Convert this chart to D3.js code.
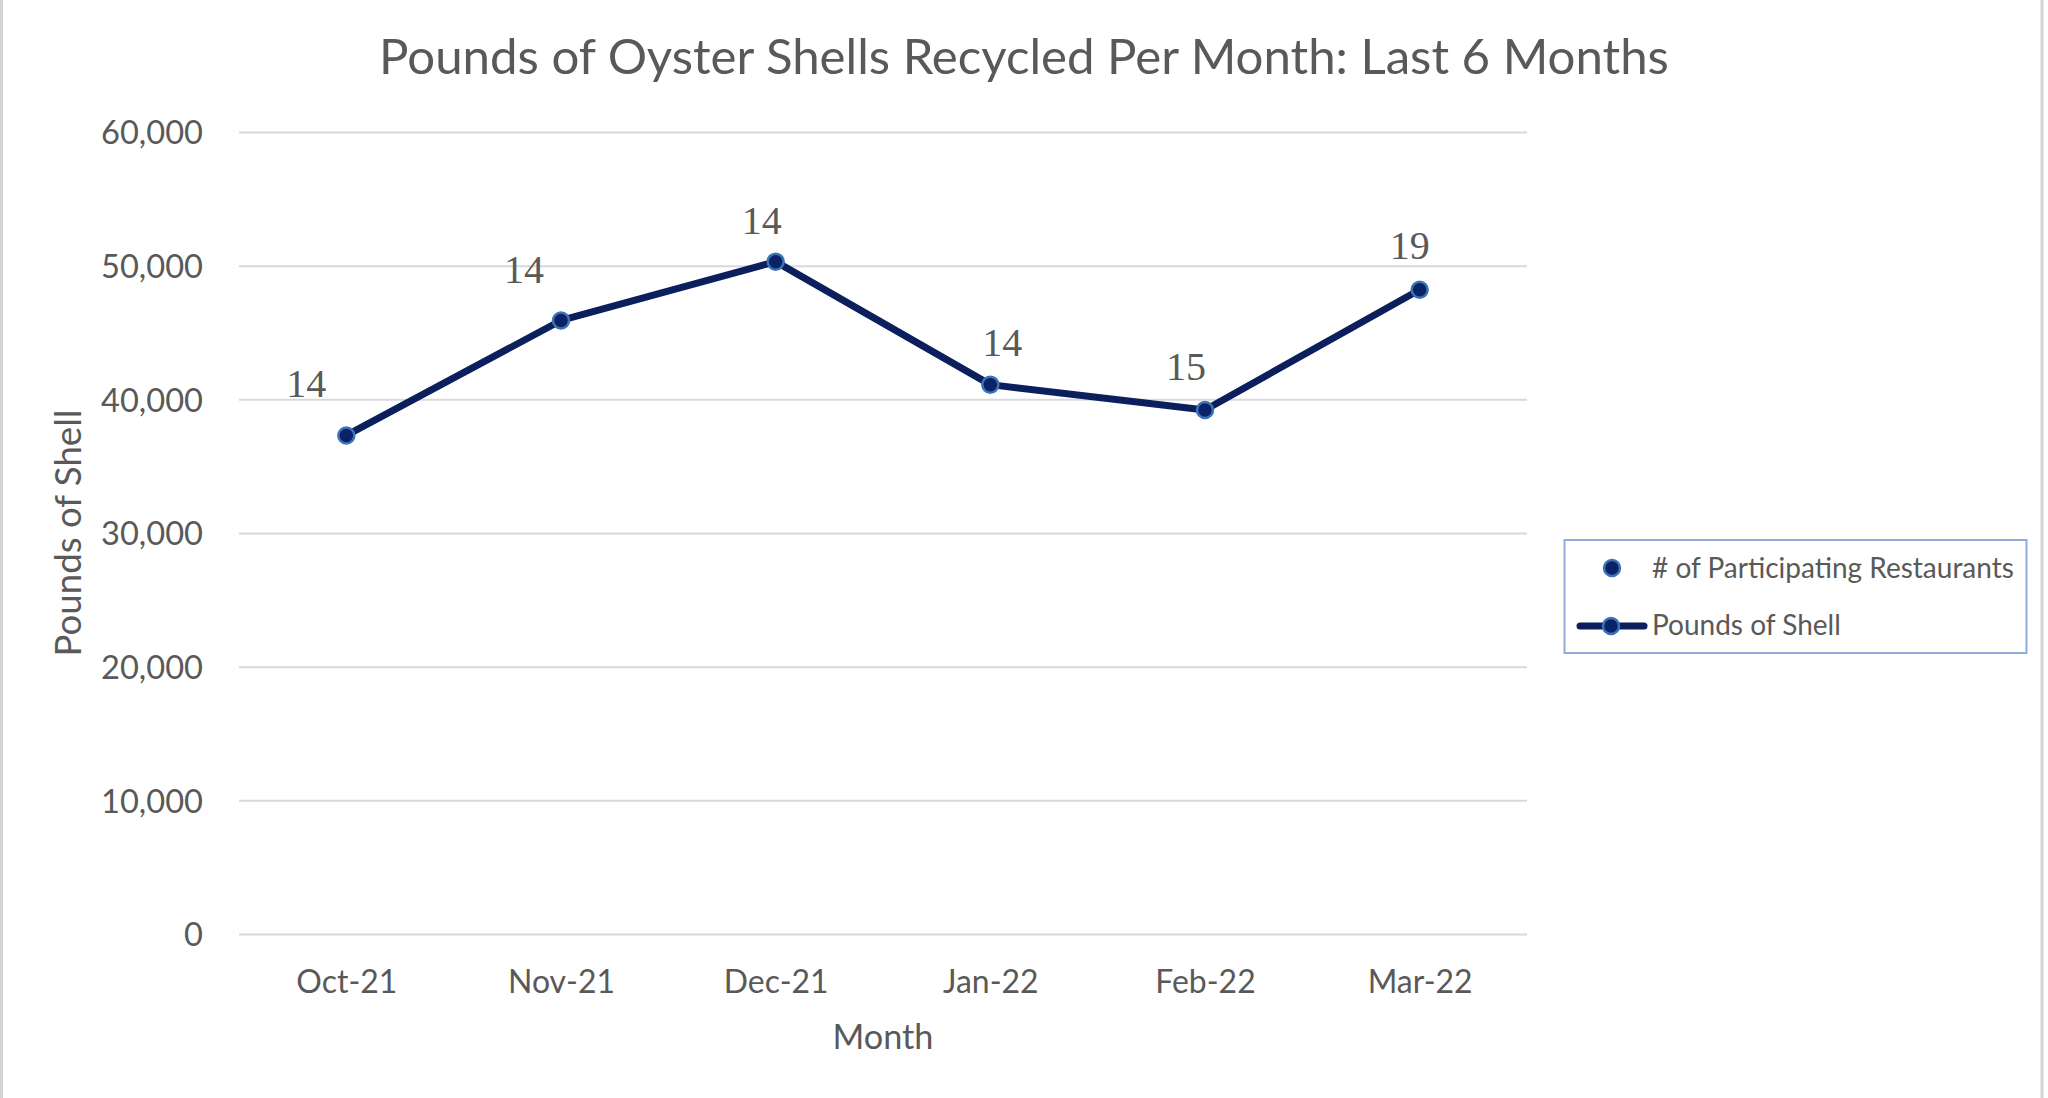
<!DOCTYPE html>
<html>
<head>
<meta charset="utf-8">
<script src="https://cdn.jsdelivr.net/npm/d3@7"></script>
<style>
  html, body { margin: 0; padding: 0; background: #fff; }
  svg { display: block; }
</style>
</head>
<body>
<svg id="chart" width="2048" height="1098"></svg>
<script>
// ---- data ----
const months = ["Oct-21", "Nov-21", "Dec-21", "Jan-22", "Feb-22", "Mar-22"];
const poundsOfShell = [37300, 45900, 50300, 41100, 39200, 48200];
const restaurants = [14, 14, 14, 14, 15, 19];
const yTicks = [0, 10000, 20000, 30000, 40000, 50000, 60000];
const titleText = "Pounds of Oyster Shells Recycled Per Month: Last 6 Months";
const xTitle = "Month";
const yTitle = "Pounds of Shell";
const legendNames = ["# of Participating Restaurants", "Pounds of Shell"];

// ---- layout / style ----
const W = 2048, H = 1098;
const plot = { left: 239, right: 1527, top: 132, bottom: 934 };
const labelNudge = [[-40, -52], [-37, -51], [-14, -41], [12, -42], [-19, -44], [-10, -44]];
const SANS = "Lato, 'Open Sans', sans-serif";
const SERIF = "'Liberation Serif', 'DejaVu Serif', serif";
const GRAY = "#595959";
const LINE = "#0b1f5c";
const MFILL = "#0a2266";
const MSTROKE = "#3d72b6";

const svg = d3.select("#chart");
svg.append("rect").attr("width", W).attr("height", H).attr("fill", "#fff");
// chart area border
svg.append("line").attr("x1", 1.5).attr("x2", 1.5).attr("y1", 0).attr("y2", H)
  .attr("stroke", "#d4d4d4").attr("stroke-width", 3);
svg.append("line").attr("x1", 2042).attr("x2", 2042).attr("y1", 0).attr("y2", H)
  .attr("stroke", "#d4d4d4").attr("stroke-width", 3);

function fit(sel, target) {
  const w = sel.node().getComputedTextLength();
  const fs = parseFloat(sel.attr("font-size"));
  const nfs = fs * target / w;
  sel.attr("font-size", nfs);
  return nfs;
}

const x = d3.scalePoint().domain(months).range([plot.left, plot.right]).padding(0.5);
const y = d3.scaleLinear().domain([0, 60000]).range([plot.bottom, plot.top]);

// title
const title = svg.append("text").attr("x", W / 2).attr("y", 74)
  .attr("text-anchor", "middle").attr("font-family", SANS).attr("font-size", 50)
  .attr("fill", GRAY).text(titleText);
fit(title, 1290);

// y axis with gridlines
const yAxis = svg.append("g").attr("transform", `translate(${plot.left},0)`)
  .call(d3.axisLeft(y).tickValues(yTicks).tickFormat(d3.format(","))
    .tickSize(-(plot.right - plot.left)).tickPadding(36));
yAxis.select(".domain").remove();
yAxis.selectAll(".tick line").attr("stroke", "#d9d9d9").attr("stroke-width", 2);
yAxis.selectAll(".tick text").attr("font-family", SANS).attr("font-size", 34)
  .attr("fill", GRAY).attr("dy", "0.36em");
{
  const t = yAxis.selectAll(".tick text").filter(d => d === 60000);
  const fs = fit(t, 102);
  yAxis.selectAll(".tick text").attr("font-size", fs);
}

// x axis
const xAxis = svg.append("g").attr("transform", `translate(0,${plot.bottom})`)
  .call(d3.axisBottom(x).tickSize(0));
xAxis.select(".domain").remove();
xAxis.selectAll(".tick text").attr("font-family", SANS).attr("font-size", 34)
  .attr("fill", GRAY).attr("y", 59).attr("dy", null);
{
  const t = xAxis.selectAll(".tick text").filter(d => d === "Oct-21");
  const fs = fit(t, 101);
  xAxis.selectAll(".tick text").attr("font-size", fs);
}

// axis titles
const xt = svg.append("text").attr("x", (plot.left + plot.right) / 2).attr("y", 1049)
  .attr("text-anchor", "middle").attr("font-family", SANS).attr("font-size", 34)
  .attr("fill", GRAY).text(xTitle);
fit(xt, 101);
const yt = svg.append("text")
  .attr("transform", `translate(81,${(plot.top + plot.bottom) / 2}) rotate(-90)`)
  .attr("text-anchor", "middle").attr("font-family", SANS).attr("font-size", 34)
  .attr("fill", GRAY).text(yTitle);
fit(yt, 247);

// line series
const pts = months.map((m, i) => ({ m, v: poundsOfShell[i], r: restaurants[i], i }));
svg.append("path").datum(pts)
  .attr("d", d3.line().x(d => x(d.m)).y(d => y(d.v)))
  .attr("fill", "none").attr("stroke", LINE).attr("stroke-width", 7)
  .attr("stroke-linejoin", "round").attr("stroke-linecap", "round");
svg.append("g").selectAll("circle").data(pts).join("circle")
  .attr("cx", d => x(d.m)).attr("cy", d => y(d.v)).attr("r", 8)
  .attr("fill", MFILL).attr("stroke", MSTROKE).attr("stroke-width", 2.5);

// data labels (# of participating restaurants)
svg.append("g").selectAll("text").data(pts).join("text")
  .attr("x", d => x(d.m) + labelNudge[d.i][0])
  .attr("y", d => y(d.v) + labelNudge[d.i][1] + 13.5)
  .attr("text-anchor", "middle").attr("font-family", SERIF).attr("font-size", 40)
  .attr("fill", GRAY).text(d => d.r);

// legend
const lg = svg.append("g");
lg.append("rect").attr("x", 1564.5).attr("y", 540).attr("width", 462).attr("height", 113)
  .attr("fill", "#fff").attr("stroke", "#8faadc").attr("stroke-width", 2);
lg.append("circle").attr("cx", 1612).attr("cy", 568).attr("r", 8)
  .attr("fill", MFILL).attr("stroke", MSTROKE).attr("stroke-width", 2.5);
lg.append("line").attr("x1", 1580).attr("x2", 1644).attr("y1", 626).attr("y2", 626)
  .attr("stroke", LINE).attr("stroke-width", 7).attr("stroke-linecap", "round");
lg.append("circle").attr("cx", 1611).attr("cy", 626).attr("r", 8)
  .attr("fill", MFILL).attr("stroke", MSTROKE).attr("stroke-width", 2.5);
const l1 = lg.append("text").attr("x", 1652).attr("y", 578).attr("font-family", SANS)
  .attr("font-size", 30).attr("fill", GRAY).text(legendNames[0]);
const lfs = fit(l1, 362);
lg.append("text").attr("x", 1652).attr("y", 635).attr("font-family", SANS)
  .attr("font-size", lfs).attr("fill", GRAY).text(legendNames[1]);
</script>
</body>
</html>
